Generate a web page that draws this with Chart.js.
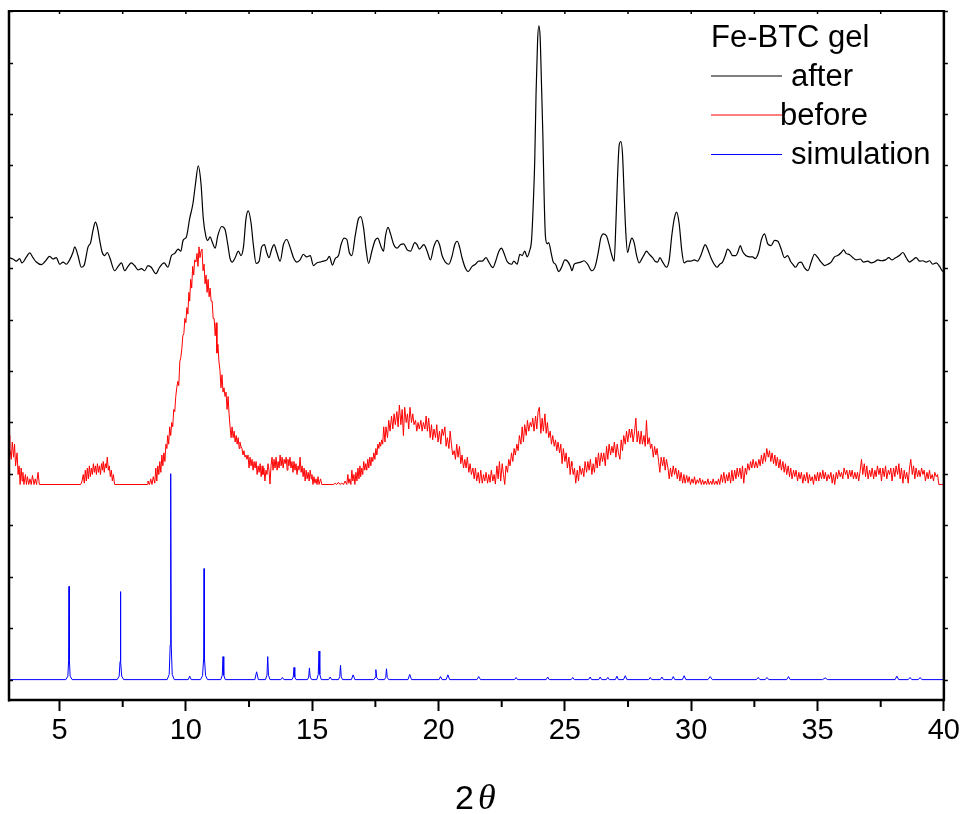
<!DOCTYPE html>
<html><head><meta charset="utf-8">
<script src="https://cdn.jsdelivr.net/npm/chart.js@4.4.1/dist/chart.umd.min.js"></script>
<style>html,body{margin:0;padding:0;background:#fff;}canvas{display:block;}</style>
</head><body>
<canvas id="c" width="963" height="814"></canvas>
<script>
// ---- axis / labels ----
const xMin = 3, xMax = 40;
const xMajorTicks = [5,10,15,20,25,30,35,40];
const xMinorTicks = [7.5,12.5,17.5,22.5,27.5,32.5,37.5];
const xTopTicks = [5,7.5,10,12.5,15,17.5,20,22.5,25,27.5,30,32.5,35,37.5];
const yMin = -47, yMax = 1542;
const yTickCounts = [0,118.6,237.2,355.8,474.4,593,711.6,830.2,948.8,1067.4,1186,1304.6,1423.2,1541.8];
const legendTitle = 'Fe-BTC gel';
const seriesNames = ['after','before','simulation'];
const xAxisTitleA = '2', xAxisTitleB = 'θ';

// ---- Fe-BTC gel after (2θ, counts) ----
const afterScan = [[3.00,973],[3.16,970],[3.29,965],[3.42,971],[3.51,961],[3.69,975],[3.82,984],[3.95,973],[4.08,963],[4.28,957],[4.41,963],[4.61,976],[4.74,970],[4.87,973],[5.01,958],[5.14,963],[5.27,958],[5.40,968],[5.53,985],[5.60,998],[5.73,978],[5.86,951],[5.97,955],[6.13,998],[6.23,1008],[6.33,1038],[6.42,1055],[6.50,1043],[6.59,1013],[6.69,985],[6.79,978],[6.89,985],[6.99,973],[7.18,943],[7.32,953],[7.45,961],[7.58,943],[7.71,953],[7.84,961],[7.97,955],[8.11,945],[8.24,948],[8.37,943],[8.50,955],[8.63,951],[8.81,936],[8.96,951],[9.14,961],[9.29,951],[9.43,978],[9.56,983],[9.69,993],[9.80,988],[9.89,1013],[10.02,1021],[10.15,1063],[10.28,1098],[10.38,1143],[10.49,1185],[10.60,1143],[10.69,1063],[10.79,1023],[10.86,1013],[10.96,1021],[11.05,1008],[11.16,995],[11.26,1023],[11.42,1045],[11.55,1038],[11.66,1003],[11.75,971],[11.84,963],[11.95,973],[12.08,988],[12.18,978],[12.28,998],[12.38,1063],[12.47,1081],[12.58,1053],[12.67,1003],[12.78,960],[12.90,965],[13.00,998],[13.11,1003],[13.20,985],[13.29,973],[13.40,993],[13.49,1003],[13.60,985],[13.73,965],[13.86,1003],[13.99,1015],[14.12,998],[14.26,973],[14.39,963],[14.52,968],[14.65,981],[14.78,975],[14.92,978],[15.05,955],[15.18,961],[15.31,963],[15.44,965],[15.58,968],[15.68,976],[15.80,956],[15.91,971],[16.04,978],[16.14,1003],[16.26,1018],[16.37,1015],[16.47,985],[16.57,978],[16.70,1023],[16.83,1063],[16.92,1068],[17.03,1043],[17.13,993],[17.23,960],[17.36,988],[17.49,1013],[17.59,1018],[17.73,998],[17.82,988],[17.90,1023],[18.00,1043],[18.10,1028],[18.23,1003],[18.36,995],[18.49,1003],[18.62,1005],[18.76,991],[18.89,988],[19.06,1008],[19.15,1003],[19.24,993],[19.42,1003],[19.55,988],[19.68,968],[19.81,998],[19.94,1013],[20.04,1003],[20.14,978],[20.27,963],[20.41,958],[20.54,978],[20.64,1003],[20.74,1011],[20.83,998],[20.93,973],[21.07,948],[21.17,941],[21.33,953],[21.46,958],[21.59,965],[21.73,965],[21.88,973],[21.99,963],[22.15,950],[22.25,963],[22.39,988],[22.49,995],[22.58,985],[22.71,965],[22.89,958],[22.98,965],[23.11,958],[23.22,981],[23.31,978],[23.41,988],[23.51,975],[23.60,988],[23.68,1013],[23.74,1083],[23.81,1203],[23.86,1353],[23.92,1473],[23.97,1508],[24.02,1483],[24.07,1383],[24.13,1253],[24.18,1113],[24.23,1023],[24.30,1005],[24.36,1008],[24.46,983],[24.54,963],[24.63,958],[24.76,941],[24.87,951],[25.00,968],[25.09,966],[25.22,953],[25.28,943],[25.37,958],[25.50,961],[25.63,963],[25.76,966],[25.90,958],[26.07,943],[26.20,953],[26.33,988],[26.42,1018],[26.53,1028],[26.65,1023],[26.75,1003],[26.86,978],[26.95,965],[27.02,1053],[27.08,1153],[27.15,1233],[27.22,1241],[27.28,1213],[27.35,1113],[27.41,1033],[27.48,985],[27.57,1005],[27.65,1018],[27.74,1008],[27.84,978],[27.94,961],[28.05,971],[28.14,980],[28.23,988],[28.34,981],[28.47,973],[28.57,965],[28.67,963],[28.76,973],[28.87,963],[29.02,951],[29.13,968],[29.23,1023],[29.33,1063],[29.42,1078],[29.52,1053],[29.63,988],[29.72,961],[29.85,965],[29.99,965],[30.12,968],[30.25,965],[30.38,978],[30.47,993],[30.55,1003],[30.65,993],[30.78,973],[30.91,958],[31.02,951],[31.13,958],[31.24,963],[31.35,978],[31.44,993],[31.53,988],[31.64,978],[31.77,978],[31.86,988],[31.94,1001],[32.03,988],[32.16,978],[32.30,975],[32.43,975],[32.53,971],[32.68,988],[32.77,1013],[32.90,1028],[33.03,1005],[33.16,1001],[33.30,1013],[33.43,1011],[33.56,993],[33.69,973],[33.82,978],[33.93,965],[34.02,958],[34.13,951],[34.25,961],[34.35,963],[34.48,950],[34.62,943],[34.75,963],[34.88,981],[35.01,973],[35.14,963],[35.28,955],[35.41,958],[35.54,963],[35.67,975],[35.80,978],[35.94,985],[36.03,991],[36.13,983],[36.27,980],[36.40,973],[36.53,968],[36.69,970],[36.82,963],[36.99,965],[37.12,961],[37.25,963],[37.39,968],[37.52,966],[37.69,968],[37.82,973],[37.95,968],[38.09,973],[38.24,978],[38.38,985],[38.51,973],[38.64,963],[38.77,968],[38.90,973],[39.04,965],[39.17,966],[39.30,963],[39.43,966],[39.56,958],[39.70,961],[39.83,953],[39.93,943],[40.00,940]];

// ---- Fe-BTC gel before (2θ, counts), read in five stretches ----
const beforeScanA = [[3.00,563],[3.03,535],[3.09,508],[3.13,548],[3.18,513],[3.22,543],[3.26,493],[3.32,523],[3.36,473],[3.40,493],[3.44,450],[3.48,488],[3.52,458],[3.55,478],[3.59,450],[3.65,473],[3.69,450],[3.73,468],[3.78,450],[3.83,463],[3.88,450],[3.93,471],[3.99,450],[4.04,463],[4.09,450],[4.15,478],[4.20,450],[5.84,450],[5.89,458],[5.94,473],[5.98,453],[6.02,483],[6.06,458],[6.10,488],[6.14,463],[6.18,493],[6.22,468],[6.26,488],[6.30,473],[6.34,498],[6.38,478],[6.42,493],[6.46,473],[6.50,498],[6.54,478],[6.58,493],[6.62,473],[6.66,498],[6.70,483],[6.73,503],[6.77,478],[6.81,498],[6.85,488],[6.89,513],[6.93,483],[6.97,493],[7.01,468],[7.05,483],[7.09,458],[7.13,473],[7.18,450],[8.48,450],[8.50,458],[8.56,450],[8.61,463],[8.66,450],[8.71,468],[8.77,453],[8.81,488],[8.85,458],[8.89,493],[8.93,473],[8.97,503],[9.01,478],[9.05,518],[9.09,493],[9.13,523],[9.17,503],[9.21,543],[9.25,533],[9.28,563],[9.32,543],[9.36,583],[9.40,563],[9.44,593],[9.48,583],[9.52,623],[9.56,618],[9.60,653],[9.64,673],[9.68,688],[9.72,678],[9.76,733],[9.80,743],[9.84,763],[9.88,793],[9.92,798],[9.96,833],[10.00,823],[10.04,858],[10.08,843],[10.12,893],[10.15,873],[10.19,923],[10.23,903],[10.27,953],[10.31,933],[10.35,968]];
const beforeScanB = [[10.40,963],[10.44,983],[10.48,953],[10.52,998],[10.56,973],[10.60,988],[10.64,993],[10.68,943],[10.72,958],[10.76,913],[10.80,933],[10.84,893],[10.88,923],[10.92,883],[10.96,903],[11.00,873],[11.04,873],[11.08,833],[11.12,833],[11.16,793],[11.20,823],[11.23,753],[11.27,773],[11.31,733],[11.35,713],[11.39,673],[11.43,703],[11.47,663],[11.51,673],[11.55,653],[11.59,663],[11.63,623],[11.67,653],[11.71,613],[11.75,583],[11.79,558],[11.83,583],[11.87,558],[11.91,573],[11.95,548],[11.99,563],[12.03,543],[12.07,558],[12.11,533],[12.14,548],[12.18,538],[12.22,533],[12.26,518],[12.30,528],[12.34,513],[12.38,518],[12.42,508],[12.46,518],[12.50,488],[12.54,513],[12.58,493],[12.62,508],[12.66,483],[12.70,503],[12.74,488],[12.78,503],[12.82,473],[12.86,493],[12.90,478],[12.94,498],[12.98,468],[13.02,493],[13.05,473],[13.09,488],[13.13,458],[13.17,483],[13.21,473],[13.25,498],[13.29,483],[13.33,451],[13.37,493],[13.41,513],[13.45,483],[13.49,508],[13.53,488],[13.57,513],[13.61,483],[13.65,503],[13.69,488],[13.73,518],[13.77,493],[13.81,513],[13.85,488],[13.89,508],[13.93,498],[13.97,513],[14.01,483],[14.04,508],[14.08,493],[14.12,513],[14.16,488],[14.20,503],[14.24,478],[14.28,503],[14.32,483],[14.36,498],[14.40,473],[14.44,493],[14.48,483],[14.52,513],[14.56,478],[14.60,493],[14.64,468],[14.68,488],[14.72,458],[14.76,483],[14.80,463],[14.84,478],[14.88,458],[14.92,483],[14.96,463],[14.99,473],[15.03,450],[15.07,468],[15.11,453],[15.15,463],[15.19,450],[15.23,468],[15.27,450],[15.33,463],[15.38,450],[15.84,450],[15.91,453],[15.97,450],[16.04,455],[16.10,450],[16.17,453],[16.24,450],[16.30,458],[16.37,450],[16.41,473],[16.45,453],[16.49,463],[16.53,450],[16.57,483],[16.61,458],[16.65,473],[16.69,450],[16.73,478],[16.77,458],[16.81,488],[16.85,463],[16.89,493],[16.92,468],[16.96,488],[17.00,473],[17.04,503],[17.08,483],[17.12,498],[17.16,483],[17.20,508],[17.24,488],[17.28,513],[17.32,493],[17.36,513],[17.40,503],[17.44,523],[17.48,508],[17.52,533],[17.56,518],[17.60,543],[17.64,533],[17.67,548],[17.71,538],[17.75,553],[17.79,543],[17.83,583],[17.88,548]];
const beforeScanC = [[17.92,583],[17.98,558],[18.03,598],[18.08,573],[18.14,608],[18.19,578],[18.24,613],[18.29,588],[18.35,618],[18.40,583],[18.45,633],[18.51,588],[18.56,623],[18.61,563],[18.66,628],[18.72,593],[18.77,613],[18.82,578],[18.87,628],[18.93,593],[18.98,613],[19.03,588],[19.09,598],[19.14,573],[19.19,593],[19.24,578],[19.30,598],[19.35,573],[19.40,593],[19.46,578],[19.51,608],[19.56,573],[19.61,603],[19.67,558],[19.72,588],[19.77,553],[19.82,578],[19.88,558],[19.93,588],[19.98,548],[20.04,573],[20.09,543],[20.14,578],[20.19,563],[20.25,583],[20.30,538],[20.35,558],[20.41,533],[20.46,573],[20.51,543],[20.56,518],[20.62,528],[20.67,508],[20.72,543],[20.77,513],[20.83,538],[20.88,498],[20.93,518],[20.99,488],[21.04,508],[21.09,488],[21.14,513],[21.20,478],[21.25,498],[21.30,473],[21.36,488],[21.41,463],[21.46,488],[21.51,458],[21.57,478],[21.62,453],[21.67,483],[21.73,453],[21.78,473],[21.83,458],[21.88,478],[21.94,453],[21.99,473],[22.04,455],[22.09,483],[22.15,458],[22.20,473],[22.25,451],[22.31,493],[22.36,463],[22.41,503],[22.46,458],[22.52,498],[22.57,473],[22.62,450],[22.67,493],[22.73,478],[22.78,508],[22.83,493],[22.89,523],[22.94,503],[22.99,533],[23.04,518],[23.10,543],[23.15,528],[23.20,563],[23.26,543],[23.31,583],[23.36,548],[23.41,588],[23.47,563],[23.52,598],[23.57,573],[23.63,593],[23.68,583],[23.73,603],[23.78,573],[23.84,608],[23.89,578],[23.94,618],[23.99,628],[24.05,568],[24.10,603],[24.15,573],[24.21,613],[24.26,568],[24.31,593],[24.36,558],[24.42,573],[24.47,543],[24.52,563],[24.58,538],[24.63,553],[24.68,528],[24.73,548],[24.79,523],[24.84,543],[24.89,498],[24.94,533],[25.00,503],[25.05,523],[25.10,488],[25.16,513],[25.21,473],[25.26,503]];
const beforeScanD = [[25.28,493],[25.33,473],[25.38,488],[25.43,453],[25.49,483],[25.54,458],[25.59,493],[25.65,473],[25.70,488],[25.75,468],[25.80,503],[25.86,478],[25.91,503],[25.96,483],[26.01,508],[26.07,473],[26.12,498],[26.17,478],[26.23,513],[26.28,488],[26.33,523],[26.38,493],[26.44,523],[26.49,503],[26.54,523],[26.60,493],[26.65,538],[26.70,508],[26.75,543],[26.81,518],[26.86,538],[26.91,523],[26.96,548],[27.02,513],[27.07,543],[27.12,523],[27.18,508],[27.23,553],[27.28,528],[27.33,563],[27.39,543],[27.44,573],[27.49,548],[27.55,578],[27.60,558],[27.65,578],[27.70,548],[27.76,573],[27.81,603],[27.86,548],[27.91,573],[27.97,543],[28.02,573],[28.07,543],[28.13,563],[28.18,538],[28.23,598],[28.28,543],[28.34,558],[28.39,533],[28.44,543],[28.50,513],[28.55,538],[28.60,518],[28.65,533],[28.71,503],[28.76,478],[28.81,513],[28.87,493],[28.92,513],[28.97,483],[29.02,508],[29.08,488],[29.13,463],[29.18,488],[29.23,468],[29.29,493],[29.34,473],[29.39,488],[29.45,463],[29.50,483],[29.55,458],[29.60,478],[29.66,453],[29.71,473],[29.76,453],[29.82,471],[29.87,455],[29.92,468],[29.97,450],[30.03,463],[30.08,453],[30.13,468],[30.18,450],[30.24,461],[30.29,453],[30.34,465],[30.40,450],[30.45,461],[30.50,450],[30.55,458],[30.61,450],[30.66,463],[30.71,450],[30.77,458],[30.82,450],[30.87,463],[30.92,450],[30.98,458],[31.03,450],[31.08,463],[31.13,450],[31.19,473],[31.24,455],[31.29,478],[31.35,453],[31.40,473],[31.45,458],[31.50,478],[31.56,453],[31.61,483],[31.66,458],[31.72,483],[31.77,463],[31.82,488],[31.87,468],[31.93,488],[31.98,463],[32.03,493],[32.08,453],[32.14,488],[32.19,473],[32.24,498],[32.30,483],[32.35,503],[32.40,488],[32.45,508],[32.51,488],[32.56,503]];
const beforeScanE = [[32.62,488],[32.68,508],[32.73,493],[32.78,518],[32.83,498],[32.89,523],[32.94,503],[32.99,533],[33.05,513],[33.10,528],[33.15,503],[33.20,523],[33.26,498],[33.31,518],[33.36,493],[33.41,513],[33.47,488],[33.52,508],[33.57,483],[33.63,503],[33.68,478],[33.73,498],[33.78,473],[33.84,493],[33.89,468],[33.94,488],[33.99,463],[34.05,483],[34.10,468],[34.15,483],[34.21,458],[34.26,478],[34.31,463],[34.36,478],[34.42,453],[34.47,473],[34.52,458],[34.58,478],[34.63,453],[34.68,473],[34.73,458],[34.79,468],[34.84,450],[34.89,473],[34.95,458],[35.00,478],[35.05,458],[35.10,478],[35.16,463],[35.21,483],[35.26,463],[35.31,478],[35.37,458],[35.42,473],[35.47,463],[35.53,478],[35.58,453],[35.63,473],[35.68,450],[35.74,478],[35.79,463],[35.84,483],[35.90,468],[35.95,478],[36.00,463],[36.05,488],[36.11,473],[36.16,483],[36.21,463],[36.27,483],[36.32,468],[36.37,483],[36.42,463],[36.48,478],[36.53,463],[36.58,478],[36.63,458],[36.69,483],[36.74,508],[36.79,473],[36.85,498],[36.90,468],[36.95,493],[37.00,463],[37.06,483],[37.11,468],[37.16,488],[37.22,463],[37.27,483],[37.32,468],[37.37,493],[37.43,473],[37.48,488],[37.53,458],[37.58,488],[37.64,468],[37.69,493],[37.74,463],[37.80,483],[37.85,473],[37.90,488],[37.95,458],[38.01,488],[38.06,468],[38.11,493],[38.17,473],[38.22,498],[38.27,463],[38.32,488],[38.38,453],[38.43,483],[38.48,463],[38.53,478],[38.59,453],[38.64,488],[38.69,508],[38.75,473],[38.80,493],[38.85,463],[38.90,488],[38.96,468],[39.01,483],[39.06,468],[39.12,488],[39.17,473],[39.22,483],[39.27,458],[39.33,478],[39.38,463],[39.43,483],[39.48,463],[39.54,473],[39.59,458],[39.64,478],[39.70,468],[39.75,473],[39.80,450],[39.91,450],[40.00,450]];

// ---- simulation (2θ, counts) ----
const simScan = [[3.00,0],[5.25,0],[5.33,8],[5.36,45],[5.375,215],[5.39,45],[5.42,8],[5.50,0],[7.28,0],[7.36,8],[7.395,42],[7.41,203],[7.425,42],[7.46,8],[7.54,0],[9.26,0],[9.34,12],[9.38,80],[9.40,475],[9.42,80],[9.46,12],[9.54,0],[10.09,0],[10.15,8],[10.21,0],[10.58,0],[10.66,9],[10.705,50],[10.72,256],[10.735,50],[10.78,9],[10.86,0],[11.38,0],[11.44,10],[11.47,53],[11.50,10],[11.56,0],[12.73,0],[12.80,18],[12.87,0],[13.15,0],[13.21,10],[13.24,53],[13.27,10],[13.33,0],[13.76,0],[13.82,5],[13.88,0],[14.20,0],[14.25,6],[14.28,28],[14.31,6],[14.36,0],[14.81,0],[14.86,6],[14.89,27],[14.92,6],[14.98,0],[15.18,0],[15.24,12],[15.27,66],[15.30,12],[15.36,0],[15.65,0],[15.71,6],[15.77,0],[16.04,0],[16.09,7],[16.12,33],[16.15,7],[16.20,0],[16.55,0],[16.62,11],[16.69,0],[17.44,0],[17.49,5],[17.52,23],[17.55,5],[17.62,0],[17.86,0],[17.91,5],[17.94,25],[17.97,5],[18.03,0],[18.79,0],[18.86,12],[18.93,0],[20.02,0],[20.08,7],[20.14,0],[20.30,0],[20.37,11],[20.44,0],[21.52,0],[21.59,7],[21.66,0],[23.01,0],[23.07,5],[23.13,0],[24.26,0],[24.32,6],[24.38,0],[25.25,0],[25.31,5],[25.37,0],[25.94,0],[26.00,6],[26.06,0],[26.34,0],[26.40,6],[26.46,0],[26.64,0],[26.70,5],[26.76,0],[27.00,0],[27.06,8],[27.12,0],[27.32,0],[27.39,9],[27.46,0],[28.32,0],[28.38,5],[28.44,0],[28.78,0],[28.84,6],[28.90,0],[29.23,0],[29.29,7],[29.35,0],[29.65,0],[29.72,9],[29.79,0],[30.66,0],[30.75,7],[30.84,0],[32.58,0],[32.65,5],[32.72,0],[32.93,0],[33.00,5],[33.07,0],[33.78,0],[33.85,7],[33.92,0],[35.20,0],[35.30,4],[35.40,0],[38.07,0],[38.14,8],[38.21,0],[38.59,0],[38.66,5],[38.73,0],[38.99,0],[39.06,5],[39.13,0],[40.00,0]];

const seriesColors = ['#000000','#ff0000','#0000ff'];
const beforeScan = [].concat(beforeScanA, beforeScanB, beforeScanC, beforeScanD, beforeScanE);
const toPts = arr => arr.map(p => ({x: p[0], y: p[1]}));

const SANS = '"Liberation Sans", Arial, sans-serif';
const SERIF = '"Liberation Serif", "Times New Roman", serif';

const framePlugin = {
  id: 'frame',
  afterDraw(chart) {
    const {ctx, chartArea: a, scales: {x, y}} = chart;
    ctx.save();
    ctx.strokeStyle = '#000';
    ctx.lineCap = 'butt';
    const seg = (x1, y1, x2, y2, w) => { ctx.lineWidth = w; ctx.beginPath(); ctx.moveTo(x1, y1); ctx.lineTo(x2, y2); ctx.stroke(); };
    // frame
    seg(a.left, a.top, a.right, a.top, 2);
    seg(a.right, a.top - 1, a.right, a.bottom + 1, 2.5);
    seg(a.left, a.top - 1, a.left, a.bottom + 1.5, 2.5);
    seg(a.left - 1, a.bottom, a.right + 1, a.bottom, 2.5);
    // minor bottom ticks
    xMinorTicks.forEach(v => { const px = x.getPixelForValue(v); seg(px, a.bottom, px, a.bottom + 7, 2); });
    // top ticks
    xTopTicks.forEach(v => { const px = x.getPixelForValue(v); seg(px, a.top, px, a.top + 3, 1.5); });
    // left / right ticks
    yTickCounts.forEach(v => { const py = Math.round(y.getPixelForValue(v)) + 0.5; seg(a.left, py, a.left + 4, py, 1.5); seg(a.right, py, a.right + 4, py, 1.5); });
    // legend
    ctx.fillStyle = '#000';
    ctx.textBaseline = 'alphabetic';
    ctx.textAlign = 'left';
    ctx.font = '31px ' + SANS;
    ctx.fillText(legendTitle, 711, 47);
    const rows = [{y: 76, ty: 86, tx: 791}, {y: 115, ty: 125, tx: 780}, {y: 154.5, ty: 164, tx: 791}];
    rows.forEach((r, i) => {
      ctx.strokeStyle = seriesColors[i];
      seg(711, r.y, 782, r.y, 1);
      ctx.fillStyle = '#000';
      ctx.fillText(seriesNames[i], r.tx, r.ty);
    });
    // x-axis title
    ctx.fillStyle = '#000';
    ctx.font = '34px ' + SANS;
    ctx.fillText(xAxisTitleA, 455, 809);
    ctx.font = 'italic 36px ' + SERIF;
    ctx.fillText(xAxisTitleB, 478, 809);
    ctx.restore();
  }
};

new Chart(document.getElementById('c').getContext('2d'), {
  type: 'line',
  data: {
    datasets: [
      {label: seriesNames[0], data: toPts(afterScan), borderColor: seriesColors[0], borderWidth: 1.2, pointRadius: 0, cubicInterpolationMode: 'monotone', fill: false},
      {label: seriesNames[1], data: toPts(beforeScan), borderColor: seriesColors[1], borderWidth: 1, pointRadius: 0, tension: 0, fill: false},
      {label: seriesNames[2], data: toPts(simScan), borderColor: seriesColors[2], borderWidth: 1, pointRadius: 0, tension: 0, fill: false}
    ]
  },
  options: {
    responsive: false,
    animation: false,
    devicePixelRatio: 1,
    parsing: false,
    layout: {padding: {left: 9, right: 19, top: 11, bottom: 0}},
    plugins: {legend: {display: false}, tooltip: {enabled: false}},
    scales: {
      x: {
        type: 'linear', min: xMin, max: xMax,
        afterFit(s) { s.height = 114; },
        afterBuildTicks(s) { s.ticks = xMajorTicks.map(v => ({value: v})); },
        ticks: {font: {family: SANS, size: 29}, color: '#000', padding: 3, maxRotation: 0, autoSkip: false},
        grid: {display: true, drawOnChartArea: false, drawTicks: true, tickLength: 11, tickWidth: 2, tickColor: '#000'},
        border: {display: false}
      },
      y: {type: 'linear', display: false, min: yMin, max: yMax}
    }
  },
  plugins: [framePlugin]
});
</script>
</body></html>
